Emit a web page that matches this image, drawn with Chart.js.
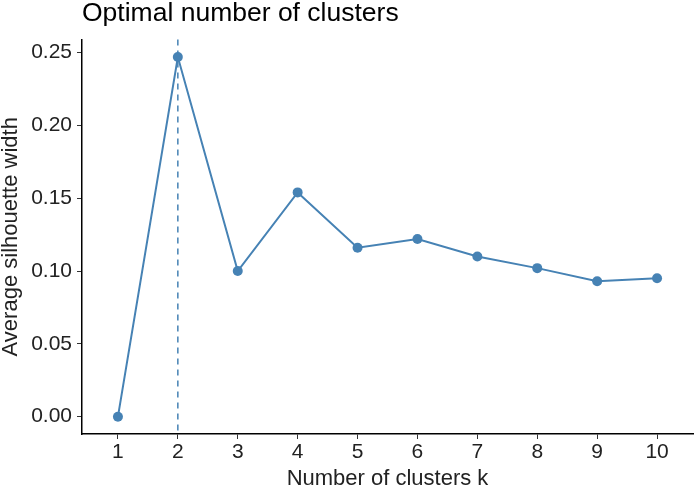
<!DOCTYPE html>
<html>
<head>
<meta charset="utf-8">
<script src="https://cdn.jsdelivr.net/npm/chart.js@4"></script>
<style>
  html, body { margin: 0; padding: 0; background: #fff; }
  #wrap { width: 698px; height: 490px; }
</style>
</head>
<body>
<div id="wrap"><canvas id="chart" width="698" height="490"></canvas></div>
<script>
const clusters = [1, 2, 3, 4, 5, 6, 7, 8, 9, 10];
const silhouette = [0.000, 0.247, 0.100, 0.154, 0.116, 0.122, 0.110, 0.102, 0.093, 0.095];
const yTicks = [0, 0.05, 0.10, 0.15, 0.20, 0.25];

const lineColor = '#4682B4';
const fontFamily = '"Liberation Sans", Arial, sans-serif';

// best k = where silhouette peaks
const bestK = clusters[silhouette.indexOf(Math.max(...silhouette))];

const optimalLine = {
    id: 'optimalLine',
    beforeDatasetsDraw(chart) {
        const { ctx, chartArea, scales } = chart;
        const x = scales.x.getPixelForValue(bestK);
        ctx.save();
        ctx.strokeStyle = lineColor;
        ctx.lineWidth = 1.5;
        ctx.setLineDash([6, 5]);
        ctx.beginPath();
        ctx.moveTo(x, chartArea.top);
        ctx.lineTo(x, chartArea.bottom);
        ctx.stroke();
        ctx.restore();
    }
};

new Chart(document.getElementById('chart').getContext('2d'), {
    type: 'line',
    data: {
        datasets: [{
            data: clusters.map((k, i) => ({ x: k, y: silhouette[i] })),
            borderColor: lineColor,
            backgroundColor: lineColor,
            borderWidth: 2,
            pointRadius: 5,
            pointBorderWidth: 0,
            tension: 0
        }]
    },
    options: {
        responsive: false,
        animation: false,
        layout: { padding: { top: 0, right: 3, left: 0, bottom: 0 } },
        plugins: {
            legend: { display: false },
            tooltip: { enabled: false },
            title: {
                display: true,
                text: 'Optimal number of clusters',
                align: 'start',
                fullSize: false,
                color: '#000',
                font: { family: fontFamily, size: 26.5, weight: 'normal', lineHeight: 1 },
                padding: { top: 0, bottom: 13 }
            }
        },
        scales: {
            x: {
                type: 'linear',
                min: 0.4,
                max: 10.6,
                afterBuildTicks: axis => { axis.ticks = clusters.map(v => ({ value: v })); },
                afterFit: axis => { axis.height = 56; },
                border: { color: '#000', width: 1.5 },
                grid: { drawOnChartArea: false, drawTicks: true, tickLength: 5, color: '#333' },
                ticks: { color: '#222', padding: 1, font: { family: fontFamily, size: 21 } },
                title: {
                    display: true,
                    text: 'Number of clusters k',
                    color: '#222',
                    padding: { top: 0, bottom: 0 },
                    font: { family: fontFamily, size: 22, lineHeight: 1 }
                }
            },
            y: {
                min: -0.0119,
                max: 0.259,
                afterBuildTicks: axis => { axis.ticks = yTicks.map(v => ({ value: v })); },
                afterFit: axis => { axis.width = 82; },
                border: { color: '#000', width: 1.5 },
                grid: { drawOnChartArea: false, drawTicks: true, tickLength: 5, color: '#333' },
                ticks: {
                    color: '#222',
                    padding: 5,
                    font: { family: fontFamily, size: 21 },
                    callback: v => v.toFixed(2)
                },
                title: {
                    display: true,
                    text: 'Average silhouette width',
                    color: '#222',
                    padding: { top: 0, bottom: 0 },
                    font: { family: fontFamily, size: 22, lineHeight: 1 }
                }
            }
        }
    },
    plugins: [optimalLine]
});
</script>
</body>
</html>
